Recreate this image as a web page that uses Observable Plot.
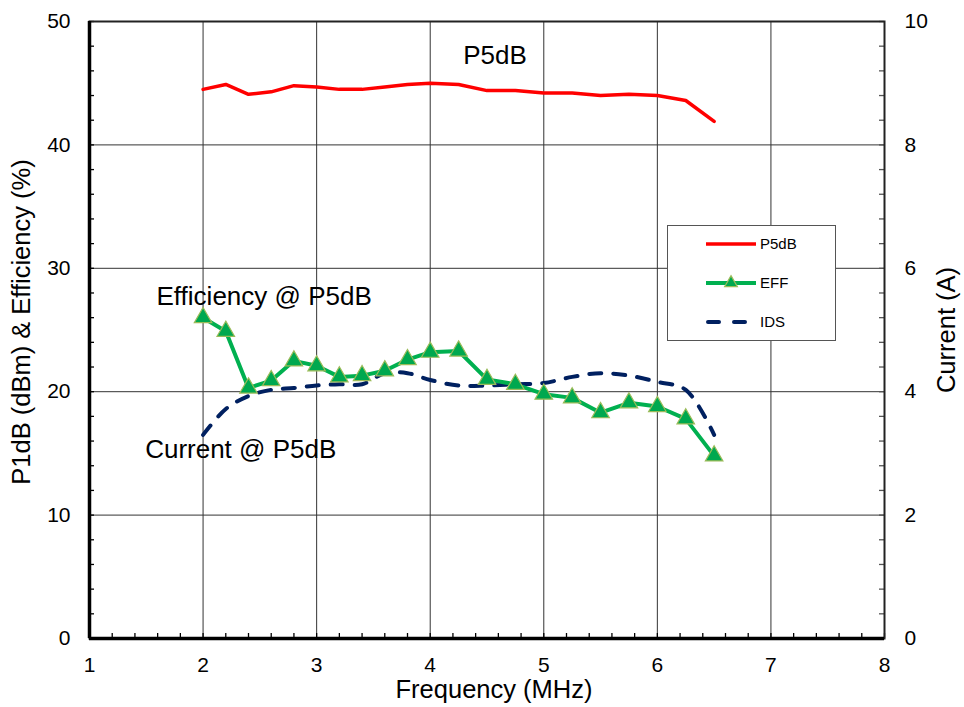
<!DOCTYPE html>
<html>
<head>
<meta charset="utf-8">
<script src="https://cdn.jsdelivr.net/npm/d3@7"></script>
<script src="https://cdn.jsdelivr.net/npm/@observablehq/plot@0.6"></script>
<style>
  body { margin: 0; background: #fff; font-family: "Liberation Sans", Arial, sans-serif; }
  #wrap { position: relative; width: 964px; height: 707px; }
  #legend { position: absolute; left: 667px; top: 225px; width: 169px; height: 116px;
            border: 1px solid #555; background: #fff; box-sizing: border-box; }
</style>
</head>
<body>
<div id="wrap"><div id="chart"></div><div id="legend"></div></div>
<script>
// ---- data ----
const freq = [2.0, 2.2, 2.4, 2.6, 2.8, 3.0, 3.2, 3.4, 3.6, 3.8, 4.0, 4.25, 4.5, 4.75, 5.0, 5.25, 5.5, 5.75, 6.0, 6.25, 6.5];
const p5db = [44.5, 44.9, 44.1, 44.3, 44.8, 44.7, 44.5, 44.5, 44.7, 44.9, 45.0, 44.9, 44.4, 44.4, 44.2, 44.2, 44.0, 44.1, 44.0, 43.6, 41.9];
const eff  = [26.0, 24.9, 20.3, 20.9, 22.5, 22.1, 21.2, 21.3, 21.7, 22.6, 23.2, 23.3, 21.0, 20.6, 19.8, 19.5, 18.3, 19.1, 18.8, 17.8, 14.8];
const ids  = [3.3, 3.72, 3.93, 4.03, 4.06, 4.1, 4.12, 4.12, 4.3, 4.3, 4.19, 4.1, 4.1, 4.12, 4.14, 4.24, 4.3, 4.26, 4.16, 4.03, 3.3];

const xTicks = [1, 2, 3, 4, 5, 6, 7, 8];
const yTicks = [0, 10, 20, 30, 40, 50];
const rightTicks = [0, 2, 4, 6, 8, 10];   // Current (A)
const ampPerUnit = 10 / 50;                 // right axis 0..10 A maps to left 0..50

const legendNames = ["P5dB", "EFF", "IDS"];
const legendColors = ["#FF0000", "#00B050", "#002060"];

const titleNotes = [{x: 4.57, y: 47.2, text: "P5dB"}];
const sideNotes = [
  {x: 1.59, y: 27.7, text: "Efficiency @ P5dB"},
  {x: 1.49, y: 15.3, text: "Current @ P5dB"}
];

// ---- derived tables ----
const rows = freq.map((f, i) => ({f, p5db: p5db[i], eff: eff[i], ids: ids[i] / ampPerUnit}));
const minorX = d3.range(10, 81, 2).map(d => d / 10);
const minorY = d3.range(0, 51, 2);

const W = 964, H = 707, mL = 89, mR = 80, mT = 21, mB = 69;
const fw = W - mL - mR, fh = H - mT - mB;

const chart = Plot.plot({
  width: W, height: H,
  marginLeft: mL, marginRight: mR, marginTop: mT, marginBottom: mB,
  style: {fontFamily: "'Liberation Sans', Arial, sans-serif", background: "#fff", color: "#000"},
  x: {domain: [1, 8], label: null},
  y: {domain: [0, 50], label: null},
  marks: [
    // gridlines
    Plot.ruleX(xTicks.slice(1, -1), {stroke: "#333", strokeWidth: 1}),
    Plot.ruleY(yTicks.slice(1, -1), {stroke: "#333", strokeWidth: 1}),
    // minor ticks (inward)
    Plot.tickX(minorX, {x: d => d, insetTop: fh - 5, stroke: "#000", strokeWidth: 1.3}),
    Plot.tickY(minorY, {y: d => d, insetRight: fw - 5, stroke: "#000", strokeWidth: 1.3}),
    Plot.tickY(minorY, {y: d => d, insetLeft: fw - 5, stroke: "#555", strokeWidth: 1.3}),
    // frame
    Plot.frame({stroke: "#222", strokeWidth: 2}),
    Plot.ruleX([1], {stroke: "#000", strokeWidth: 3.5}),
    Plot.ruleY([0], {stroke: "#000", strokeWidth: 3.5}),
    // axes
    Plot.axisX(xTicks, {anchor: "bottom", tickSize: 0, tickPadding: 19, fontSize: 21, label: null,
      tickFormat: d => String(d)}),
    Plot.axisY(yTicks, {anchor: "left", tickSize: 0, tickPadding: 19, fontSize: 21, label: null,
      tickFormat: d => String(d)}),
    Plot.axisY(rightTicks.map(a => a / ampPerUnit), {anchor: "right", tickSize: 0, tickPadding: 20, fontSize: 21,
      tickFormat: d => String(Math.round(d * ampPerUnit)), label: null}),
    // axis titles
    Plot.text(["P1dB (dBm) & Efficiency (%)"], {frameAnchor: "left", text: d => d, rotate: -90,
      textAnchor: "middle", dx: -68, dy: -8, fontSize: 25.5}),
    Plot.text(["Current (A)"], {frameAnchor: "right", text: d => d, rotate: -90,
      textAnchor: "middle", dx: 62, fontSize: 25.5}),
    Plot.text(["Frequency (MHz)"], {frameAnchor: "bottom", text: d => d, textAnchor: "middle",
      dy: 59, dx: 7, fontSize: 25.5}),
    // series
    Plot.line(rows, {x: "f", y: "ids", stroke: "#002060", strokeWidth: 4, strokeDasharray: "12,12",
      strokeLinecap: "round", curve: "catmull-rom"}),
    Plot.line(rows, {x: "f", y: "p5db", stroke: "#FF0000", strokeWidth: 3.5}),
    Plot.line(rows, {x: "f", y: "eff", stroke: "#00B050", strokeWidth: 4}),
    Plot.dot(rows, {x: "f", y: "eff", symbol: "triangle", r: 6.5, fill: "#00A84F", stroke: "#9BBB59", strokeWidth: 1.2}),
    // annotations
    Plot.text(titleNotes, {x: "x", y: "y", text: "text", textAnchor: "middle", fontSize: 26}),
    Plot.text(sideNotes, {x: "x", y: "y", text: "text", textAnchor: "start", fontSize: 26})
  ]
});
document.getElementById("chart").appendChild(chart);

// ---- legend ----
const lg = d3.select("#legend").append("svg").attr("width", 167).attr("height", 114)
  .style("font-family", "'Liberation Sans', Arial, sans-serif");
legendNames.forEach((name, i) => {
  const y = 18 + i * 39;
  const g = lg.append("g");
  const line = g.append("line").attr("x1", 38).attr("x2", 88).attr("y1", y).attr("y2", y)
    .attr("stroke", legendColors[i]).attr("stroke-width", i === 0 ? 3.5 : 4);
  if (name === "IDS") line.attr("stroke-dasharray", "11,15").attr("stroke-linecap", "round").attr("x1", 40);
  if (name === "EFF") g.append("path").attr("d", d3.symbol(d3.symbolTriangle, 70)())
    .attr("transform", `translate(63,${y})`).attr("fill", "#00A84F").attr("stroke", "#9BBB59").attr("stroke-width", 1.2);
  g.append("text").attr("x", 92).attr("y", y).attr("dy", "0.36em").attr("font-size", 15).text(name);
});
</script>
</body>
</html>
